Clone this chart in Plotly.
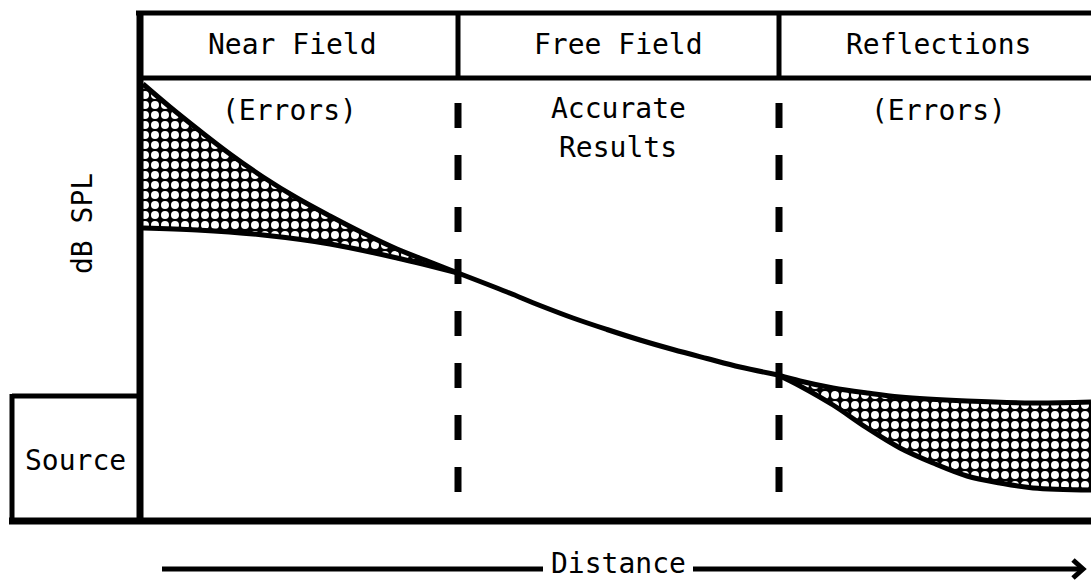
import plotly.graph_objects as go

# ---- data (pixel-space diagram coordinates) ----
near_upper_x = [143, 170, 200, 230, 263, 297, 330, 363, 397, 430, 458]
near_upper_y = [84, 107, 131, 154, 177, 198, 216, 233, 249, 262, 273]
near_lower_x = [143, 197, 263, 330, 397, 458]
near_lower_y = [228, 230, 235, 244, 258, 273]
free_x = [458, 507, 540, 573, 607, 640, 673, 707, 740, 778]
free_y = [273, 292, 305.5, 318, 329.5, 340, 349.5, 358.5, 367, 375]
refl_upper_x = [778, 800, 833, 867, 900, 967, 1033, 1091]
refl_upper_y = [375, 381, 388, 393, 397, 401, 403, 402]
refl_lower_x = [778, 800, 833, 867, 900, 933, 967, 1000, 1033, 1091]
refl_lower_y = [375, 386, 405, 428, 448, 463, 476, 483, 488, 490]

header_labels = ["Near Field", "Free Field", "Reflections"]
zone_labels = ["(Errors)", "Accurate", "Results", "(Errors)"]
axis_labels = ["dB SPL", "Distance"]
source_label = "Source"

# ---- layout constants ----
W, H = 1091, 581
TOP, HDR, BOT = 13, 78, 521
LEFT, DIV1, DIV2 = 140, 458, 779
SRC_L, SRC_T = 12, 396
ARROW_Y = 569
FONT = "DejaVu Sans Mono"

fig = go.Figure()

hatch = dict(shape=".", fgcolor="white", bgcolor="black", fgopacity=1,
             size=10, solidity=0.5)

# hatched error regions
fig.add_trace(go.Scatter(
    x=near_upper_x + near_lower_x[::-1], y=near_upper_y + near_lower_y[::-1],
    mode="none", fill="toself", fillcolor="black", fillpattern=hatch,
    hoverinfo="skip"))
fig.add_trace(go.Scatter(
    x=refl_upper_x + refl_lower_x[::-1], y=refl_upper_y + refl_lower_y[::-1],
    mode="none", fill="toself", fillcolor="black", fillpattern=hatch,
    hoverinfo="skip"))

# curves
for xs, ys in [(near_upper_x, near_upper_y), (near_lower_x, near_lower_y),
               (free_x, free_y), (refl_upper_x, refl_upper_y),
               (refl_lower_x, refl_lower_y)]:
    fig.add_trace(go.Scatter(x=xs, y=ys, mode="lines",
                             line=dict(color="black", width=5, shape="spline"),
                             hoverinfo="skip"))

shapes = []
def ln(x0, y0, x1, y1, w=6, dash=None):
    d = dict(type="line", x0=x0, y0=y0, x1=x1, y1=y1, xref="x", yref="y",
             line=dict(color="black", width=w))
    if dash:
        d["line"]["dash"] = dash
    shapes.append(d)

# frame
ln(LEFT - 4, TOP, W + 5, TOP, 5)
ln(LEFT - 3, HDR, W + 5, HDR, 5)
ln(LEFT, TOP - 2, LEFT, BOT + 3, 7)
ln(SRC_L - 3, BOT, W + 5, BOT, 7)
ln(DIV1, TOP, DIV1, HDR, 5)
ln(DIV2, TOP, DIV2, HDR, 5)
# source box
ln(SRC_L, SRC_T, LEFT, SRC_T, 5)
ln(SRC_L, SRC_T - 2, SRC_L, BOT + 3, 5)
# dashed zone boundaries
ln(DIV1, 103, DIV1, 495, 7, "25px,27px")
ln(DIV2, 103, DIV2, 495, 7, "25px,27px")
# distance arrow
ln(162, ARROW_Y, 543, ARROW_Y, 5)
ln(693, ARROW_Y, 1081, ARROW_Y, 5)
shapes.append(dict(type="path", path=f"M 1073 {ARROW_Y-9} L 1083 {ARROW_Y} L 1073 {ARROW_Y+9}",
                   xref="x", yref="y", line=dict(color="black", width=5)))

fig.update_layout(shapes=shapes)

txt = dict(family=FONT, size=28, color="black")
annotations = []
for (cx, lab) in zip([292, 618, 938], header_labels):
    annotations.append(dict(x=cx, y=(TOP + HDR) / 2 - 1, text=lab, showarrow=False, font=txt))
annotations.append(dict(x=289, y=110, text=zone_labels[0], showarrow=False, font=txt))
annotations.append(dict(x=618, y=108, text=zone_labels[1], showarrow=False, font=txt))
annotations.append(dict(x=618, y=147, text=zone_labels[2], showarrow=False, font=txt))
annotations.append(dict(x=938, y=110, text=zone_labels[3], showarrow=False, font=txt))
annotations.append(dict(x=82, y=224, text=axis_labels[0], textangle=-90, showarrow=False, font=txt))
annotations.append(dict(x=75, y=460, text=source_label, showarrow=False, font=txt))
annotations.append(dict(x=618, y=ARROW_Y - 6, text=axis_labels[1], showarrow=False, font=txt))
fig.update_layout(annotations=annotations)

fig.update_layout(
    width=W, height=H, margin=dict(l=0, r=0, t=0, b=0),
    paper_bgcolor="white", plot_bgcolor="white", showlegend=False,
    xaxis=dict(range=[0, W], visible=False, fixedrange=True),
    yaxis=dict(range=[H, 0], visible=False, fixedrange=True),
)
fig.write_html("out.html", config={"displayModeBar": False},
               post_script="document.body.style.margin='0';document.body.style.overflow='hidden';")
